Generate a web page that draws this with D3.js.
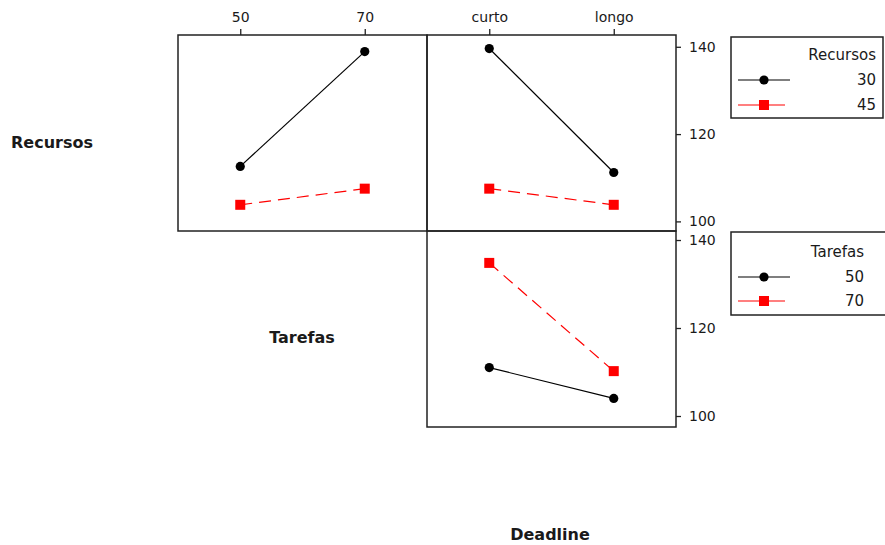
<!DOCTYPE html>
<html>
<head>
<meta charset="utf-8">
<script src="https://cdn.jsdelivr.net/npm/d3@7"></script>
<style>
  html, body { margin: 0; padding: 0; background: #fff; }
  svg { display: block; }
  .tick text { font-family: "DejaVu Sans", sans-serif; font-size: 14px; fill: #1a1a1a; }
  .tick line { stroke: #222; stroke-width: 1.3; }
  .lbl { font-family: "DejaVu Sans", sans-serif; font-size: 15px; fill: #1a1a1a; }
  .factor { font-family: "DejaVu Sans", sans-serif; font-size: 16px; font-weight: bold; fill: #1a1a1a; }
</style>
</head>
<body>
<script>
// Factor levels
const recursosLevels = ["30", "45"];
const tarefasLevels = ["50", "70"];
const deadlineLevels = ["curto", "longo"];

// Mean response for each factor-pair combination
const recTarefas30 = [112.6, 138.9];   // Recursos = 30 across Tarefas 50 / 70
const recTarefas45 = [103.8, 107.5];   // Recursos = 45 across Tarefas 50 / 70
const recDeadline30 = [139.6, 111.2];  // Recursos = 30 across Deadline curto / longo
const recDeadline45 = [107.5, 103.8];  // Recursos = 45 across Deadline curto / longo
const tarDeadline50 = [111.0, 104.0];  // Tarefas = 50 across Deadline curto / longo
const tarDeadline70 = [134.8, 110.2];  // Tarefas = 70 across Deadline curto / longo

// Response axis
const yTicks = [100, 120, 140];
const yDomainTop = [97.8, 142.7];
const yDomainBottom = [97.5, 142.05];

const W = 885, H = 545;
const svg = d3.select("body").append("svg").attr("width", W).attr("height", H);

// Grid of panels
const col1 = [178, 427], col2 = [427, 676];
const row1 = [35, 231], row2 = [231, 427];

const xTar = d3.scalePoint().domain(tarefasLevels).range(col1).padding(0.5);
const xDead = d3.scalePoint().domain(deadlineLevels).range(col2).padding(0.5);
const yTop = d3.scaleLinear().domain(yDomainTop).range([row1[1], row1[0]]);
const yBot = d3.scaleLinear().domain(yDomainBottom).range([row2[1], row2[0]]);

const series = [
  { color: "#000000", dash: null, shape: "circle" },
  { color: "#ff0000", dash: "12,7", shape: "square" }
];

function drawPanel(xs, ys, levels, data) {
  data.forEach((vals, i) => {
    const s = series[i];
    const pts = levels.map((l, k) => [xs(l), ys(vals[k])]);
    svg.append("path")
      .attr("d", d3.line()(pts))
      .attr("fill", "none")
      .attr("stroke", s.color)
      .attr("stroke-width", 1.2)
      .attr("stroke-dasharray", s.dash);
    pts.forEach(p => drawMarker(p[0], p[1], s));
  });
}

function drawMarker(x, y, s) {
  if (s.shape === "circle") {
    svg.append("circle").attr("cx", x).attr("cy", y).attr("r", 4.6).attr("fill", s.color);
  } else {
    svg.append("rect").attr("x", x - 5).attr("y", y - 5).attr("width", 10).attr("height", 10).attr("fill", s.color);
  }
}

function frame(xr, yr) {
  svg.append("rect")
    .attr("x", xr[0]).attr("y", yr[0])
    .attr("width", xr[1] - xr[0]).attr("height", yr[1] - yr[0])
    .attr("fill", "none").attr("stroke", "#222").attr("stroke-width", 1.5);
}

// Panels
drawPanel(xTar, yTop, tarefasLevels, [recTarefas30, recTarefas45]);
drawPanel(xDead, yTop, deadlineLevels, [recDeadline30, recDeadline45]);
drawPanel(xDead, yBot, deadlineLevels, [tarDeadline50, tarDeadline70]);
frame(col1, row1);
frame(col2, row1);
frame(col2, row2);

// Top axes
function styleAxis(g) {
  g.select(".domain").remove();
}
svg.append("g").attr("transform", `translate(0,${row1[0]})`)
  .call(d3.axisTop(xTar).tickSize(6).tickSizeOuter(0).tickPadding(7)).call(styleAxis);
svg.append("g").attr("transform", `translate(0,${row1[0]})`)
  .call(d3.axisTop(xDead).tickSize(6).tickSizeOuter(0).tickPadding(7)).call(styleAxis);

// Right axes
svg.append("g").attr("transform", `translate(${col2[1]},0)`)
  .call(d3.axisRight(yTop).tickValues(yTicks).tickSize(5).tickSizeOuter(0).tickPadding(8)).call(styleAxis);
svg.append("g").attr("transform", `translate(${col2[1]},0)`)
  .call(d3.axisRight(yBot).tickValues(yTicks).tickSize(5).tickSizeOuter(0).tickPadding(8)).call(styleAxis);

// Factor labels
svg.append("text").attr("class", "factor").attr("x", 52).attr("y", 142).attr("text-anchor", "middle").attr("dy", "0.35em").text("Recursos");
svg.append("text").attr("class", "factor").attr("x", 302).attr("y", 337).attr("text-anchor", "middle").attr("dy", "0.35em").text("Tarefas");
svg.append("text").attr("class", "factor").attr("x", 550).attr("y", 534).attr("text-anchor", "middle").attr("dy", "0.35em").text("Deadline");

// Legends
function legend(box, title, levels, titleY, rowYs, textRight) {
  svg.append("rect")
    .attr("x", box[0]).attr("y", box[1]).attr("width", box[2]).attr("height", box[3])
    .attr("fill", "none").attr("stroke", "#222").attr("stroke-width", 1.5);
  svg.append("text").attr("class", "lbl").attr("x", textRight).attr("y", titleY)
    .attr("text-anchor", "end").attr("dy", "0.35em").text(title);
  levels.forEach((lv, i) => {
    const s = series[i];
    const y = rowYs[i];
    svg.append("line")
      .attr("x1", 738).attr("x2", s.shape === "circle" ? 790 : 785)
      .attr("y1", y).attr("y2", y)
      .attr("stroke", s.color).attr("stroke-width", 1.2);
    drawMarker(764, y, s);
    svg.append("text").attr("class", "lbl").attr("x", textRight).attr("y", y)
      .attr("text-anchor", "end").attr("dy", "0.35em").text(lv);
  });
}
legend([731, 37, 152, 81], "Recursos", recursosLevels, 55, [80, 105], 876);
legend([731, 232, 156, 83], "Tarefas", tarefasLevels, 252, [277, 301], 864);
</script>
</body>
</html>
